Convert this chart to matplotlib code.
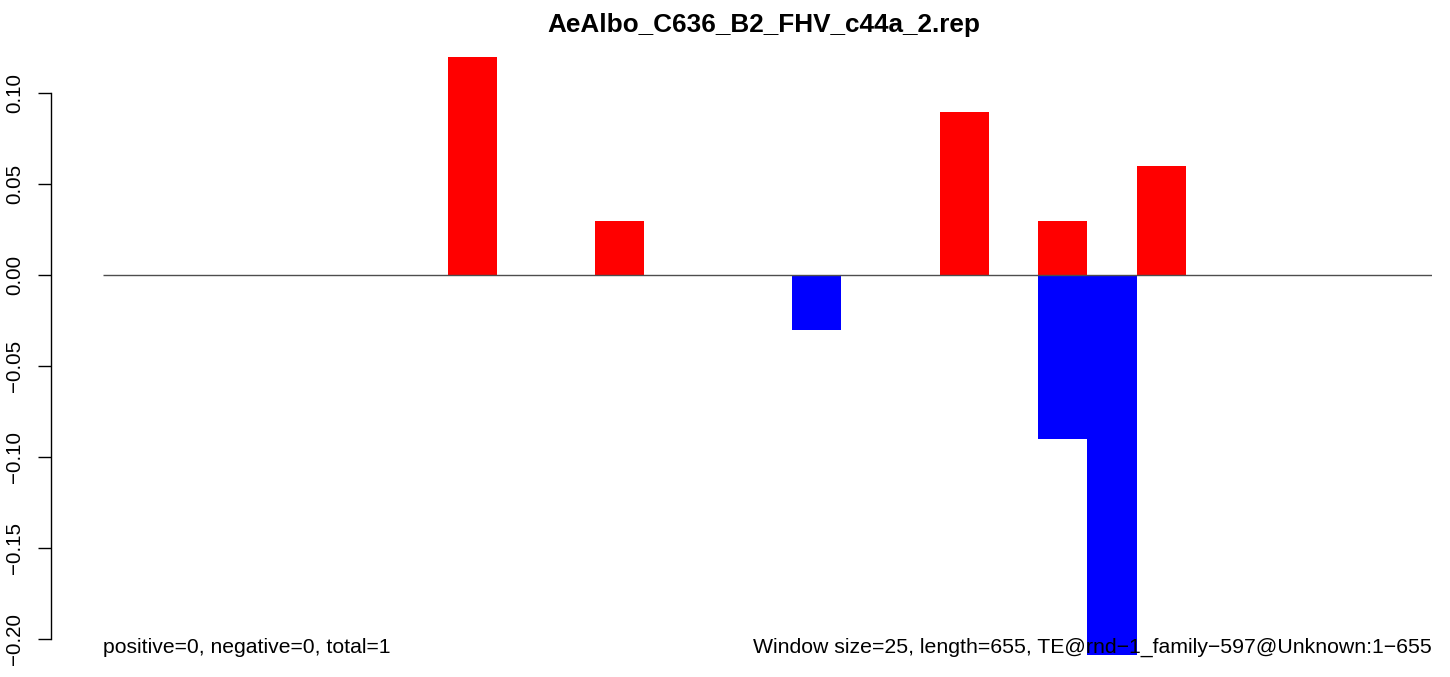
"""Window plot of repeat coverage for AeAlbo_C636_B2_FHV_c44a_2.rep."""

import matplotlib

matplotlib.use("Agg")
import matplotlib.pyplot as plt
import numpy as np

plt.rcParams["font.family"] = ["Liberation Sans", "DejaVu Sans"]

TITLE = "AeAlbo_C636_B2_FHV_c44a_2.rep"
LEFT_NOTE = "positive=0, negative=0, total=1"
RIGHT_NOTE = "Window size=25, length=655, TE@rnd\u22121_family\u2212597@Unknown:1\u2212655"

# one value per 25 bp window (27 windows)
positive = [0, 0, 0, 0, 0, 0, 0, 0.12, 0, 0, 0.03, 0, 0, 0, 0,
            0, 0, 0.09, 0, 0.03, 0, 0.06, 0, 0, 0, 0, 0]
negative = [0, 0, 0, 0, 0, 0, 0, 0, 0, 0, 0, 0, 0, 0, -0.03,
            0, 0, 0, 0, -0.09, -0.21, 0, 0, 0, 0, 0, 0]
ytick_values = [-0.20, -0.15, -0.10, -0.05, 0.00, 0.05, 0.10]

W, H = 1450, 677
fig = plt.figure(figsize=(W / 100, H / 100), dpi=100)

# plot region in pixels
x0, x1 = 103, 1432
y_top, y_bot = 35, 655
ax = fig.add_axes([x0 / W, (H - y_bot) / H, (x1 - x0) / W, (y_bot - y_top) / H])

n = len(positive)
idx = np.arange(n)
ax.bar(idx, positive, width=1, align="edge", color="red", linewidth=0)
ax.bar(idx, negative, width=1, align="edge", color="blue", linewidth=0)
ax.hlines(0, 0, n, color="#4d4d4d", linewidth=1.0)

ax.set_xlim(0, n)
px_per_unit = 1820.0
zero_px = 275.3
ax.set_ylim(-(y_bot - zero_px) / px_per_unit, (zero_px - y_top) / px_per_unit)

for side in ["top", "right", "bottom"]:
    ax.spines[side].set_visible(False)
ax.spines["left"].set_position(("outward", 52.3 * 0.72))
ax.spines["left"].set_bounds(min(ytick_values), max(ytick_values))
ax.spines["left"].set_linewidth(1.0)
ax.set_xticks([])
ax.set_yticks(ytick_values)
ax.set_yticklabels([f"{v:.2f}".replace("-", "\u2212") for v in ytick_values],
                   rotation=90, va="center", fontsize=14.8)
ax.tick_params(axis="y", length=9.2, width=1.0, pad=9.8)

fig.text(763.7 / W, (H - 32.3) / H, TITLE, ha="center", va="baseline",
         fontsize=18.8, fontweight="bold")
fig.text(x0 / W, (H - 653) / H, LEFT_NOTE, ha="left", va="baseline", fontsize=15.2)
fig.text(x1 / W, (H - 653) / H, RIGHT_NOTE, ha="right", va="baseline", fontsize=15.35,
         zorder=5)

fig.savefig("out.png", dpi=100)
